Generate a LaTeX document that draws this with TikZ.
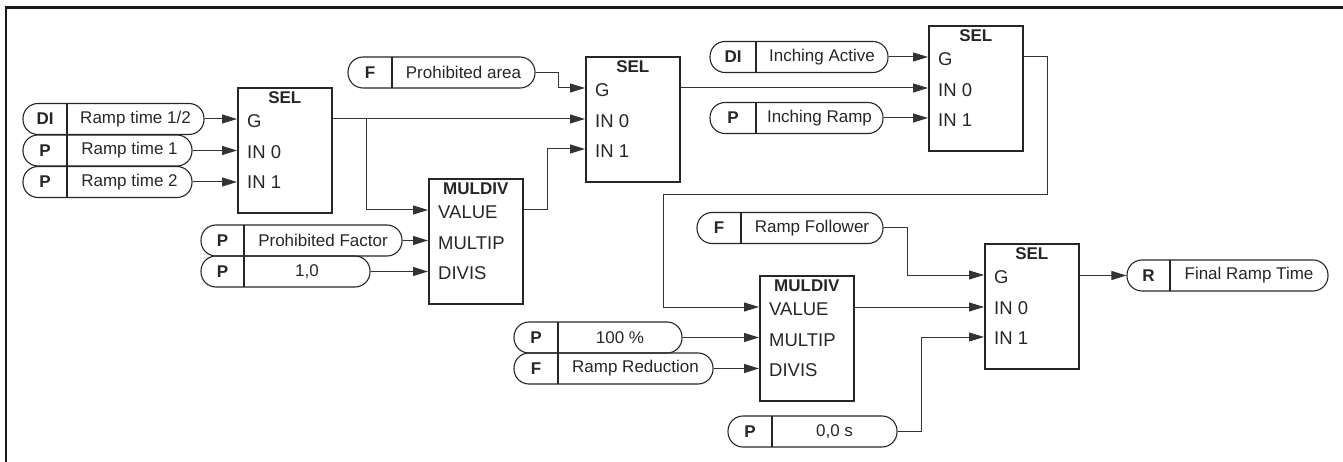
\documentclass[tikz,border=0pt]{standalone}
\usepackage{fontspec}
\setmainfont{Liberation Sans}
\usetikzlibrary{arrows.meta,fit,calc}

\tikzset{
  wire/.style={draw=black!80, line width=1pt},
  arr/.style={wire, -{Triangle[length=15pt,width=9pt]}},
  frameline/.style={draw=black!90, line width=2.2pt},
  blk/.style={draw=black!85, line width=1.6pt, minimum width=94pt, minimum height=125pt, anchor=north west, inner sep=0pt},
  pillshape/.style={draw=black!85, line width=1.1pt, rounded corners=15pt, inner sep=0pt},
  divider/.style={draw=black!85, line width=1.1pt},
  tagtext/.style={font=\fontsize{17}{19}\selectfont\bfseries, text=black!85, inner sep=0pt},
  pilltext/.style={font=\fontsize{17}{19}\selectfont, text=black!85, inner sep=0pt},
  titletext/.style={font=\fontsize{17}{19}\selectfont\bfseries, text=black!85, inner sep=0pt},
  porttext/.style={font=\fontsize{18.5}{20}\selectfont, text=black!85, anchor=west, inner sep=0pt},
}

% name, x1, x2, xdivider, ycenter, tag, text
\newcommand{\pillbox}[7]{%
  \coordinate (#1-a) at (#2,#5-15.5);
  \coordinate (#1-b) at (#3,#5+15.5);
  \node[pillshape, fit=(#1-a)(#1-b)] (#1) {};
  \draw[divider] (#4,#5-15.5) -- (#4,#5+15.5);
  \node[tagtext] (#1-tag) at ({(#2+#4)/2},#5) {#6};
  \node[pilltext] (#1-txt) at ({(#4+#3)/2},#5) {#7};
}

% name, x, top, title, port1, port2, port3
\newcommand{\blockbox}[7]{%
  \node[blk] (#1) at (#2,#3) {};
  \node[titletext] (#1-t) at ($(#1.north)+(0,11)$) {#4};
  \node[porttext] (#1-p1) at ($(#1.north west)+(10,34)$) {#5};
  \node[porttext] (#1-p2) at ($(#1.north west)+(10,65)$) {#6};
  \node[porttext] (#1-p3) at ($(#1.north west)+(10,95)$) {#7};
}

\begin{document}
\begin{tikzpicture}[x=1pt,y=-1pt]
\useasboundingbox (0,0) rectangle (1343,462);

% frame (top and left only)
\coordinate (fa) at (5,7.5);
\coordinate (fb) at (1343,7.5);
\coordinate (fc) at (6,7);
\coordinate (fd) at (6,462);
\draw[frameline] (fa) -- (fb);
\draw[frameline] (fc) -- (fd);

% blocks
\blockbox{sel1}{237}{87}{SEL}{G}{IN 0}{IN 1}
\blockbox{sel2}{585}{56}{SEL}{G}{IN 0}{IN 1}
\blockbox{sel3}{928}{25}{SEL}{G}{IN 0}{IN 1}
\blockbox{sel4}{984}{243}{SEL}{G}{IN 0}{IN 1}
\blockbox{mul1}{428}{178}{MULDIV}{VALUE}{MULTIP}{DIVIS}
\blockbox{mul2}{759}{275}{MULDIV}{VALUE}{MULTIP}{DIVIS}

% pills
\pillbox{rt12}{23}{204}{67}{119}{DI}{Ramp time 1/2}
\pillbox{rt1}{23}{192}{67}{150.5}{P}{Ramp time 1}
\pillbox{rt2}{23}{192}{67}{182}{P}{Ramp time 2}
\pillbox{parea}{348}{535}{392}{72.5}{F}{Prohibited area}
\pillbox{pfac}{201}{402}{244}{240.5}{P}{Prohibited Factor}
\pillbox{one}{201}{370}{244}{271.5}{P}{1,0}
\pillbox{inact}{710}{888}{756}{57}{DI}{Inching Active}
\pillbox{inramp}{710}{883}{756}{118}{P}{Inching Ramp}
\pillbox{rfol}{697}{883}{741}{228}{F}{Ramp Follower}
\pillbox{hund}{514}{682}{558}{337.5}{P}{100 \%}
\pillbox{rred}{514}{713}{558}{368.5}{F}{Ramp Reduction}
\pillbox{zero}{728}{897}{772}{431.5}{P}{0,0 s}
\pillbox{final}{1127}{1328}{1170}{275.5}{R}{Final Ramp Time}

% SEL1 inputs
\draw[arr] (rt12.east) -- (rt12.east -| sel1.west);
\draw[arr] (rt1.east) -- (rt1.east -| sel1.west);
\draw[arr] (rt2.east) -- (rt2.east -| sel1.west);

% SEL1 output
\coordinate (s1o) at (sel1.west |- rt12.east);
\coordinate (br1) at (366,119);
\draw[arr] (s1o -| sel1.east) -- (s1o -| sel2.west);
\draw[arr] (br1) -- (366,210) -- (mul1.west |- 0,210);

% MUL1 inputs
\draw[arr] (pfac.east) -- (pfac.east -| mul1.west);
\draw[arr] (one.east) -- (one.east -| mul1.west);

% MUL1 output to SEL2 IN1
\coordinate (m1o) at (523,210);
\draw[arr] (m1o -| mul1.east) -- (547,210) -- (547,149) -- (sel2.west |- 0,149);

% Prohibited area to SEL2 G
\draw[arr] (parea.east) -- (558,72.5) -- (558,88) -- (sel2.west |- 0,88);

% SEL2 output to SEL3 IN0
\draw[arr] (sel2.east |- 0,88) -- (sel3.west |- 0,88);

% SEL3 inputs
\draw[arr] (inact.east) -- (inact.east -| sel3.west);
\draw[arr] (inramp.east) -- (inramp.east -| sel3.west);

% SEL3 output to MUL2 VALUE
\draw[arr] (sel3.east |- 0,57) -- (1047,57) -- (1047,195) -- (663,195) -- (663,307) -- (mul2.west |- 0,307);

% MUL2 inputs
\draw[arr] (hund.east) -- (hund.east -| mul2.west);
\draw[arr] (rred.east) -- (rred.east -| mul2.west);

% SEL4 inputs
\draw[arr] (rfol.east) -- (907,228) -- (907,275) -- (sel4.west |- 0,275);
\draw[arr] (mul2.east |- 0,307) -- (sel4.west |- 0,307);
\draw[arr] (zero.east) -- (921,431.5) -- (921,337) -- (sel4.west |- 0,337);

% SEL4 output
\draw[arr] (sel4.east |- 0,275.5) -- (final.west);

\end{tikzpicture}
\end{document}
